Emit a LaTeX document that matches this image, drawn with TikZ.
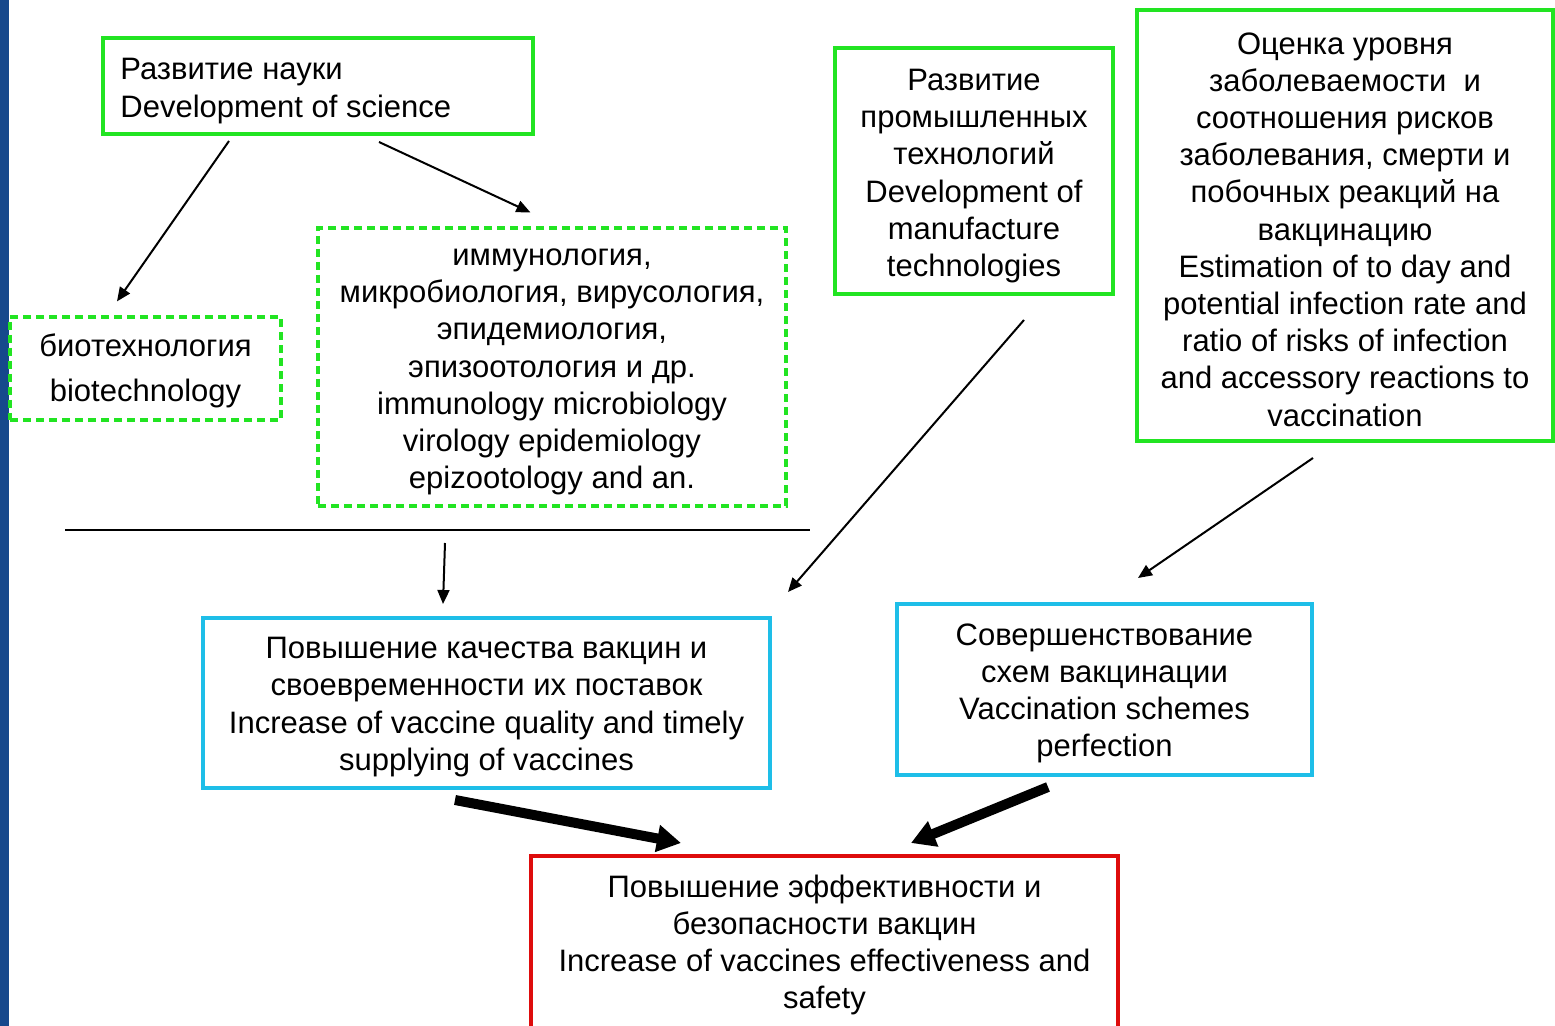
\documentclass[tikz,border=0pt]{standalone}
\usepackage{fontspec}
\setmainfont{Liberation Sans}
\usetikzlibrary{arrows.meta,calc}
\definecolor{boxgreen}{RGB}{34,228,34}
\definecolor{boxcyan}{RGB}{30,190,232}
\definecolor{boxred}{RGB}{222,12,12}
\definecolor{slideblue}{RGB}{22,72,140}
\tikzset{
  txt/.style={font=\fontsize{15.5}{18.6}\selectfont, align=center, inner sep=0pt},
  greenbox/.style={draw=boxgreen, line width=2pt, inner sep=0pt},
  dashbox/.style={draw=boxgreen, line width=1.6pt, dash pattern=on 4pt off 2.5pt, inner sep=0pt},
  cyanbox/.style={draw=boxcyan, line width=2pt, inner sep=0pt},
  redbox/.style={draw=boxred, line width=2pt, inner sep=0pt},
  thinarrow/.style={line width=1pt, -{Triangle[length=7pt,width=6pt]}},
  thickarrow/.style={line width=5pt, -{Triangle[length=12pt,width=13pt]}},
}
\begin{document}
\begin{tikzpicture}[x=0.5pt,y=-0.5pt]
\clip (0,0) rectangle (1555,1026);
\fill[white] (0,0) rectangle (1555,1026);
\fill[slideblue] (0,0) rectangle (9,1026);

% boxes
\node[greenbox, minimum width=215pt, minimum height=48pt] (sci) at (318,86) {};
\node[dashbox, minimum width=135.5pt, minimum height=51.5pt] (bio) at (145.5,368.5) {};
\node[dashbox, minimum width=234pt, minimum height=139pt] (imm) at (552,367) {};
\node[greenbox, minimum width=139pt, minimum height=123pt] (man) at (974,171) {};
\node[greenbox, minimum width=208pt, minimum height=215.5pt] (est) at (1345,225.5) {};
\node[cyanbox, minimum width=283.5pt, minimum height=85pt] (qual) at (486.5,703) {};
\node[cyanbox, minimum width=207.5pt, minimum height=85.5pt] (sch) at (1104.5,689.5) {};
\node[redbox, minimum width=293.5pt, minimum height=87pt] (res) at (824.5,943) {};

% texts
\node[txt, align=left, anchor=west] (scit) at ($(sci.west)+(19,5)$)
  {Развитие науки\\Development of science};
\node[txt, font=\fontsize{15.5}{22.5}\selectfont] (biot) at ($(bio)+(0,2)$)
  {биотехнология\\biotechnology};
\node[txt] (immt) at ($(imm)+(0,5)$)
  {иммунология,\\микробиология, вирусология,\\эпидемиология,\\эпизоотология и др.\\immunology microbiology\\virology epidemiology\\epizootology and an.};
\node[txt] (mant) at ($(man)+(0,5)$)
  {Развитие\\промышленных\\технологий\\Development of\\manufacture\\technologies};
\node[txt] (estt) at ($(est)+(0,4)$)
  {Оценка уровня\\заболеваемости\ \ и\\соотношения рисков\\заболевания, смерти и\\побочных реакций на\\вакцинацию\\Estimation of to day and\\potential infection rate and\\ratio of risks of infection\\and accessory reactions to\\vaccination};
\node[txt] (qualt) at ($(qual)+(0,4)$)
  {Повышение качества вакцин и\\своевременности их поставок\\Increase of vaccine quality and timely\\supplying of vaccines};
\node[txt] (scht) at ($(sch)+(0,4)$)
  {Совершенствование\\схем вакцинации\\Vaccination schemes\\perfection};
\node[txt] (rest) at ($(res)+(0,2)$)
  {Повышение эффективности и\\безопасности вакцин\\Increase of vaccines effectiveness and\\safety};

\coordinate (hl1) at (65,530);
\coordinate (hl2) at (810,530);
\draw[line width=0.6pt] (hl1) -- (hl2);

\draw[thinarrow] ($(sci.south west)+(128,5)$) -- ($(bio.north)+(-28.5,-14)$);
\draw[thinarrow] ($(sci.south west)+(278,6)$) -- ($(imm.north west)+(214,-14)$);
\draw[thinarrow] ($(hl1)+(380,13)$) -- ($(qual.north west)+(242,-12)$);
\draw[thinarrow] ($(man.south)+(50,24)$) -- ($(qual.north east)+(16,-24)$);
\draw[thinarrow] ($(est.south west)+(178,15)$) -- ($(sch.north west)+(243,-24)$);
\draw[thickarrow] ($(qual.south west)+(254,10)$) -- ($(res.north west)+(152,-11)$);
\draw[thickarrow] ($(sch.south west)+(153,10)$) -- ($(res.north west)+(382,-11)$);
\end{tikzpicture}
\end{document}
